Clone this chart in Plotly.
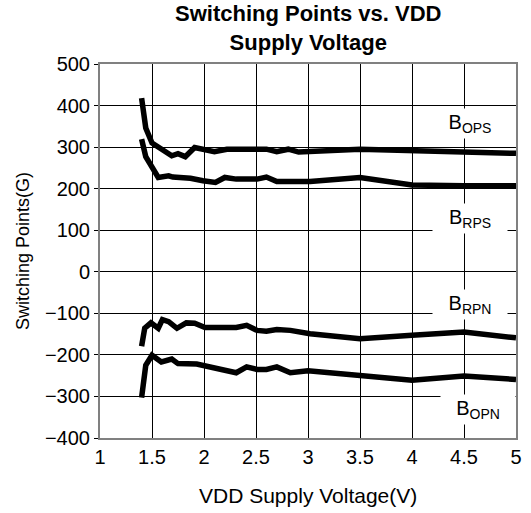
import plotly.graph_objects as go

# B_OPS curve
bops_v = [1.40, 1.44, 1.50, 1.69, 1.75, 1.82, 1.91, 2.10, 2.22, 2.60, 2.70, 2.81, 2.91, 3.5, 5.0]
bops_g = [418, 346, 310, 279, 284, 277, 299, 289, 295, 295, 289, 295, 288, 295, 285]

# B_RPS curve
brps_v = [1.40, 1.44, 1.56, 1.66, 1.70, 1.87, 1.99, 2.11, 2.20, 2.31, 2.51, 2.60, 2.70, 3.02, 3.5, 4.0, 4.5, 5.0]
brps_g = [319, 277, 227, 231, 228, 225, 219, 215, 227, 223, 223, 228, 217, 217, 227, 209, 207, 207]

# B_RPN curve
brpn_v = [1.40, 1.43, 1.49, 1.56, 1.60, 1.66, 1.74, 1.83, 1.91, 2.01, 2.31, 2.41, 2.51, 2.60, 2.70, 2.83, 3.02, 3.5, 4.0, 4.5, 5.0]
brpn_g = [-179, -136, -123, -136, -115, -120, -136, -123, -124, -134, -134, -129, -141, -143, -139, -141, -149, -161, -153, -145, -159]

# B_OPN curve
bopn_v = [1.40, 1.44, 1.50, 1.59, 1.69, 1.75, 1.93, 2.09, 2.20, 2.31, 2.41, 2.51, 2.60, 2.70, 2.83, 3.0, 4.0, 4.5, 5.0]
bopn_g = [-303, -225, -201, -217, -210, -221, -222, -229, -237, -243, -229, -235, -235, -229, -243, -238, -261, -251, -259]

# curve labels
label_text = ["B<sub>OPS</sub>", "B<sub>RPS</sub>", "B<sub>RPN</sub>", "B<sub>OPN</sub>"]
label_x = [4.56, 4.56, 4.56, 4.63]
label_y = [356, 129, -78, -331]

x_ticks = [1, 1.5, 2, 2.5, 3, 3.5, 4, 4.5, 5]
y_ticks = [500, 400, 300, 200, 100, 0, -100, -200, -300, -400]

FONT = "Liberation Sans, Arial, sans-serif"

fig = go.Figure()
for xs, ys in [(bops_v, bops_g), (brps_v, brps_g), (brpn_v, brpn_g), (bopn_v, bopn_g)]:
    fig.add_trace(
        go.Scatter(
            x=xs,
            y=ys,
            mode="lines",
            line=dict(color="black", width=5.5),
            showlegend=False,
        )
    )

for t, x, y in zip(label_text, label_x, label_y):
    fig.add_annotation(
        x=x,
        y=y,
        text=t,
        showarrow=False,
        bgcolor="white",
        width=70,
        borderpad=2,
        font=dict(family=FONT, size=20, color="black"),
    )

# title and axis titles as paper annotations
fig.add_annotation(
    x=0.5, y=1, xref="paper", yref="paper",
    yanchor="bottom", yshift=7, showarrow=False,
    text="<b>Switching Points vs. VDD<br>Supply Voltage</b>",
    font=dict(family=FONT, size=22, color="black"),
)
fig.add_annotation(
    x=0.5, y=0, xref="paper", yref="paper",
    yanchor="middle", yshift=-57, showarrow=False,
    text="VDD Supply Voltage(V)",
    font=dict(family=FONT, size=21, color="black"),
)
fig.add_annotation(
    x=0, y=0.5, xref="paper", yref="paper",
    xanchor="center", xshift=-77, showarrow=False, textangle=-90,
    text="Switching Points(G)",
    font=dict(family=FONT, size=18, color="black"),
)

fig.update_layout(
    width=531,
    height=513,
    margin=dict(l=100, r=15, t=64, b=75, autoexpand=False),
    paper_bgcolor="white",
    plot_bgcolor="white",
    font=dict(family=FONT, size=20, color="black"),
    xaxis=dict(
        range=[1, 5],
        tickvals=x_ticks,
        ticktext=[f"{v:g}" for v in x_ticks],
        showgrid=True,
        gridcolor="black",
        gridwidth=1,
        showline=True,
        linecolor="#808080",
        linewidth=2,
        mirror=True,
        zeroline=False,
        ticks="",
        automargin=False,
    ),
    yaxis=dict(
        range=[-400, 500],
        tickvals=y_ticks,
        showgrid=True,
        gridcolor="black",
        gridwidth=1,
        showline=True,
        linecolor="#808080",
        linewidth=2,
        mirror=True,
        zeroline=False,
        ticks="outside",
        ticklen=4,
        tickcolor="black",
        automargin=False,
    ),
)

# drop the default 8px body margin so the figure fills the window
fig.write_html(
    "out.html",
    config={"displayModeBar": False},
    post_script="document.body.style.margin = '0';",
)
